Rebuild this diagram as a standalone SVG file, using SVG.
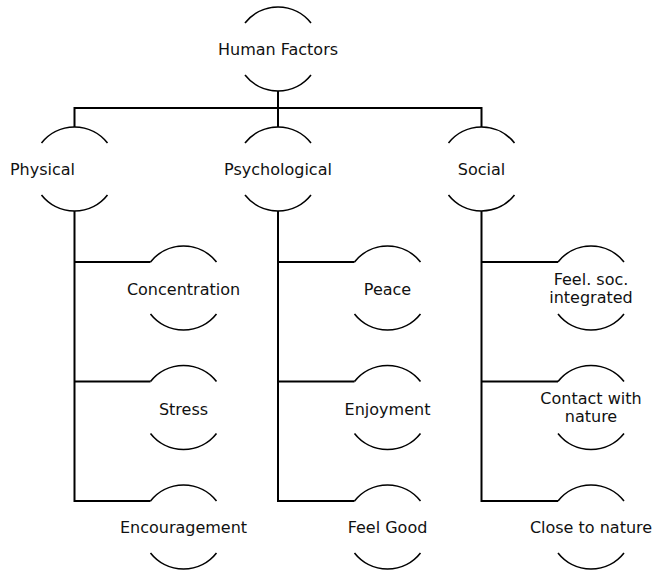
<svg xmlns="http://www.w3.org/2000/svg" width="655" height="570" viewBox="0 0 655 570">
<style>
.arc{fill:none;stroke:#000;stroke-width:1.6}
.ln{fill:none;stroke:#000;stroke-width:2}
text{font-family:"DejaVu Sans","Liberation Sans",sans-serif;font-size:16px;fill:#111;text-anchor:middle}
</style>
<defs>
<path id="n" class="arc" d="M-33,-26 A42,42 0 0 1 33,-26 M-33,26 A42,42 0 0 0 33,26"/>
</defs>
<rect width="655" height="570" fill="#fff"/>
<g id="connectors">
<path class="ln" d="M278,91 V127"/>
<path class="ln" d="M74.5,127 V108 H481.5 V127"/>
<path class="ln" d="M74.5,211 V501 H150.5 M74.5,262 H150.5 M74.5,381.5 H150.5"/>
<path class="ln" d="M278,211 V501 H354.5 M278,262 H354.5 M278,381.5 H354.5"/>
<path class="ln" d="M481.5,211 V501 H558 M481.5,262 H558 M481.5,381.5 H558"/>
</g>
<g id="human-factors" transform="translate(278,49)"><use href="#n"/><text y="6">Human Factors</text></g>
<g id="physical" transform="translate(74.5,169)"><use href="#n"/><text x="0.5" y="6" style="text-anchor:end">Physical</text></g>
<g id="psychological" transform="translate(278,169)"><use href="#n"/><text y="6">Psychological</text></g>
<g id="social" transform="translate(481.5,169)"><use href="#n"/><text y="6">Social</text></g>
<g id="concentration" transform="translate(183.5,288)"><use href="#n"/><text y="7">Concentration</text></g>
<g id="stress" transform="translate(183.5,407.5)"><use href="#n"/><text y="7">Stress</text></g>
<g id="encouragement" transform="translate(183.5,527)"><use href="#n"/><text y="6">Encouragement</text></g>
<g id="peace" transform="translate(387.5,288)"><use href="#n"/><text y="7">Peace</text></g>
<g id="enjoyment" transform="translate(387.5,407.5)"><use href="#n"/><text y="7">Enjoyment</text></g>
<g id="feel-good" transform="translate(387.5,527)"><use href="#n"/><text y="6">Feel Good</text></g>
<g id="feel-soc-integrated" transform="translate(591,288)"><use href="#n"/><text y="-3">Feel. soc.</text><text y="15">integrated</text></g>
<g id="contact-with-nature" transform="translate(591,407.5)"><use href="#n"/><text y="-3.5">Contact with</text><text y="14.5">nature</text></g>
<g id="close-to-nature" transform="translate(591,527)"><use href="#n"/><text y="6">Close to nature</text></g>
</svg>
